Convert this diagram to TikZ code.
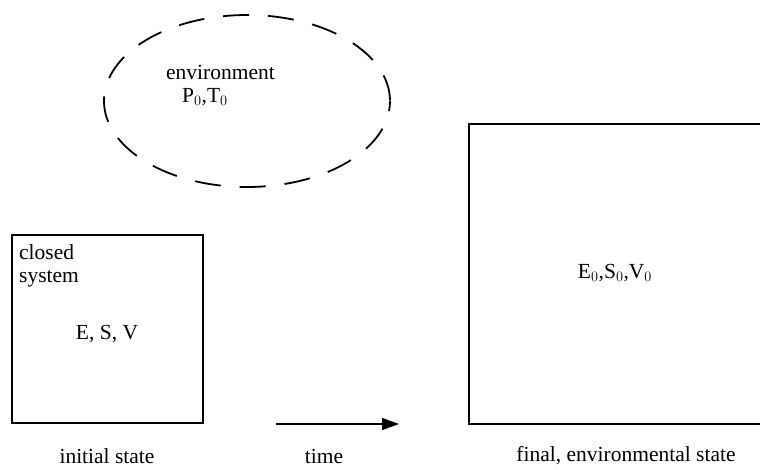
\documentclass[tikz,border=0pt]{standalone}
\usepackage{fontspec}
\setmainfont{Liberation Serif}
\usetikzlibrary{arrows.meta}
\begin{document}
\begin{tikzpicture}[x=1pt,y=-1pt,
  lbl/.style={font=\fontsize{21.5}{24}\selectfont, inner sep=0pt},
  boxline/.style={draw, line width=1.8pt},
]
\useasboundingbox (0,0) rectangle (760,469);
% environment ellipse
\draw[line width=1.8pt, dash pattern=on 26pt off 19pt, dash phase=16pt] (247,101) ellipse [x radius=143, y radius=86];
\node[lbl, anchor=base west] (env) at (166,79) {environment};
\node[lbl, anchor=base west] (pt) at (182,102) {P$_0$,T$_0$};
% initial closed system
\draw[boxline] (12,235) rectangle (203,423);
\node[lbl, anchor=base west] (cl) at (19,259) {closed};
\node[lbl, anchor=base west] (sy) at (19,282) {system};
\node[lbl] (esv) at (107,334) {E, S, V};
% final box
\draw[boxline] (469,124) rectangle (770,424);
\node[lbl] (esv0) at (615,273) {E$_0$,S$_0$,V$_0$};
% arrow
\coordinate (a1) at (276,424);
\coordinate (a2) at (399,424);
\draw[line width=1.5pt, -{Triangle[length=17pt,width=12pt]}] (a1) -- (a2);
% labels
\node[lbl] (init) at (107,456) {initial state};
\node[lbl] (time) at (324,456) {time};
\node[lbl] (fin) at (626,456) {final, environmental state};
\end{tikzpicture}
\end{document}
